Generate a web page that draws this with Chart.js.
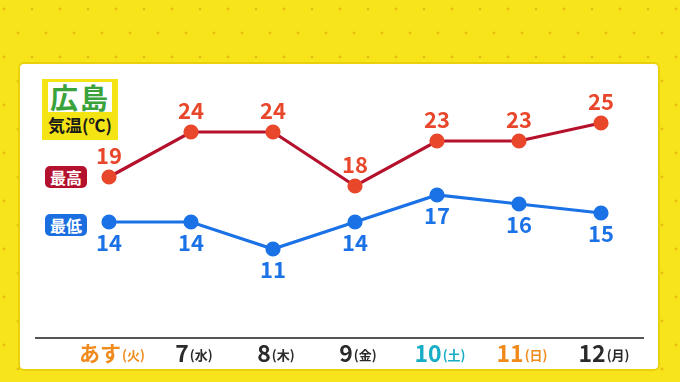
<!DOCTYPE html>
<html><head><meta charset="utf-8">
<script src="https://cdn.jsdelivr.net/npm/chart.js@4"></script>
<style>
html,body{margin:0;padding:0;width:680px;height:382px;overflow:hidden;}
body{background-color:#f8e41a;background-image:radial-gradient(circle,#e6bf0e 0,#e6bf0e 1.1px,transparent 1.8px),radial-gradient(circle,#e6bf0e 0,#e6bf0e 1.1px,transparent 1.8px);background-size:28px 48px,28px 48px;background-position:18px -15px,4px 9px;font-family:"Noto Sans CJK JP",sans-serif;}
#panel{position:absolute;left:20px;top:64px;width:638px;height:305px;background:#fff;border-radius:4px;box-shadow:0 0 0 2px #ead10e;}
#title{position:absolute;left:42px;top:79px;width:76px;height:61px;background:#f4e414;}
#title .name{position:absolute;left:6px;top:3px;width:64px;height:30px;background:#fff;color:#3aa23a;font-weight:700;font-size:28px;line-height:30px;text-align:center;letter-spacing:2px;}
#title .sub{position:absolute;left:0;top:36px;width:76px;text-align:center;color:#1a1a1a;font-weight:700;font-size:17px;line-height:20px;}
.badge{position:absolute;left:45px;width:42px;height:22px;border-radius:5px;color:#fff;font-weight:700;font-size:16px;line-height:22px;text-align:center;}
#hi{top:166px;background:#b3112e;}
#lo{top:214px;background:#1a6ee0;}
canvas{position:absolute;left:0;top:0;}
</style></head>
<body>
<div id="panel"></div>
<div id="title"><div class="name">広島</div><div class="sub">気温(℃)</div></div>
<div class="badge" id="hi">最高</div>
<div class="badge" id="lo">最低</div>
<canvas id="c" width="680" height="382"></canvas>
<script>
const dayLabels = ['あす','7','8','9','10','11','12'];
const weekdays = ['火','水','木','金','土','日','月'];
const highTemps = [19,24,24,18,23,23,25];
const lowTemps = [14,14,11,14,17,16,15];
const dayColors = ['#f08a1c','#2b2b2b','#2b2b2b','#2b2b2b','#17adc4','#f08a1c','#2b2b2b'];

const FONT = '"Noto Sans CJK JP", sans-serif';
const HIGH_LINE = '#b5102c', HIGH_PT = '#e9472b', HIGH_TXT = '#e9472b';
const LOW_COL = '#1a72e6';

const decor = {
  id: 'decor',
  afterDatasetsDraw(chart) {
    const ctx = chart.ctx;
    const xs = chart.scales.x;
    ctx.save();
    ctx.strokeStyle = '#555';
    ctx.lineWidth = 2;
    ctx.beginPath();
    ctx.moveTo(35, 338); ctx.lineTo(644, 338);
    ctx.stroke();
    ctx.textBaseline = 'middle';
    ctx.textAlign = 'left';
    dayLabels.forEach((lab, i) => {
      const x = xs.getPixelForValue(i);
      const big = 'bold ' + (i === 0 ? 21 : 23) + 'px ' + FONT;
      const small = 'bold 13px ' + FONT;
      const paren = '(' + weekdays[i] + ')';
      ctx.font = big; const w1 = ctx.measureText(lab).width;
      ctx.font = small; const w2 = ctx.measureText(paren).width;
      const start = x + 3 - (w1 + w2 + 1) / 2;
      ctx.fillStyle = dayColors[i];
      ctx.font = big; ctx.fillText(lab, start, 353);
      ctx.font = small; ctx.fillText(paren, start + w1 + 1, 355);
    });
    ctx.textAlign = 'center';
    ctx.font = 'bold 22px ' + FONT;
    chart.data.datasets.forEach((ds, di) => {
      const meta = chart.getDatasetMeta(di);
      meta.data.forEach((pt, i) => {
        ctx.fillStyle = di === 0 ? HIGH_TXT : LOW_COL;
        const y = di === 0 ? pt.y - 21 : pt.y + 21;
        ctx.fillText(String(ds.data[i]), pt.x, y);
      });
    });
    ctx.restore();
  }
};

new Chart(document.getElementById('c'), {
  type: 'line',
  data: {
    labels: dayLabels,
    datasets: [
      { label: '最高', data: highTemps, borderColor: HIGH_LINE, borderWidth: 3.2,
        pointBackgroundColor: HIGH_PT, pointBorderColor: HIGH_PT, pointRadius: 6, tension: 0 },
      { label: '最低', data: lowTemps, borderColor: LOW_COL, borderWidth: 3.2,
        pointBackgroundColor: LOW_COL, pointBorderColor: LOW_COL, pointRadius: 6, tension: 0 }
    ]
  },
  options: {
    responsive: false,
    animation: false,
    devicePixelRatio: 1,
    layout: { padding: { left: 68, right: 38, top: 78, bottom: 43 } },
    plugins: { legend: { display: false }, tooltip: { enabled: false } },
    scales: {
      x: { display: false, offset: true },
      y: { display: false, min: 1, max: 30 }
    }
  },
  plugins: [decor]
});
</script>
</body></html>
